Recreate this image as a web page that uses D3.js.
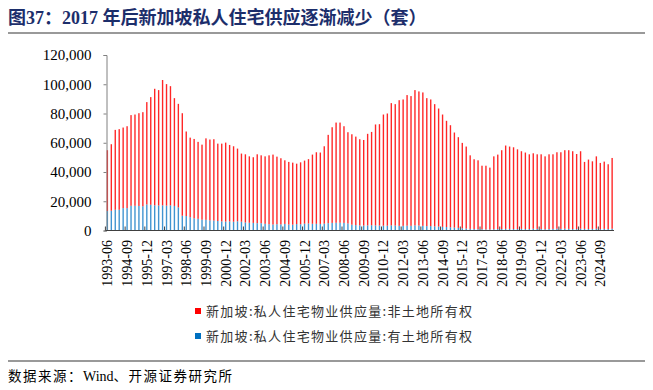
<!DOCTYPE html>
<html>
<head>
<meta charset="utf-8">
<script src="https://cdn.jsdelivr.net/npm/d3@7"></script>
<style>
  body { margin: 0; background: #fff; }
  svg { display: block; }
</style>
</head>
<body>
<div id="chart"></div>
<script>
// quarterly categories 1993-06 .. 2025-06
const quarters = [];
for (let y = 1993; y <= 2025; y++) {
  ['03', '06', '09', '12'].forEach(m => {
    const q = `${y}-${m}`;
    if (q >= '1993-06' && q <= '2025-06') quarters.push(q);
  });
}

const tickLabels = ['1993-06', '1994-09', '1995-12', '1997-03', '1998-06', '1999-09', '2000-12',
  '2002-03', '2003-06', '2004-09', '2005-12', '2007-03', '2008-06', '2009-09', '2010-12',
  '2012-03', '2013-06', '2014-09', '2015-12', '2017-03', '2018-06', '2019-09', '2020-12',
  '2022-03', '2023-06', '2024-09'];

const yTicks = [0, 20000, 40000, 60000, 80000, 100000, 120000];

// 有土地所有权 (landed)
const landed = [
  13300, 13500, 14200, 14200, 15300, 15300, 16900, 16900, 16800, 16600,
  17800, 17600, 17200, 17100, 17200, 17000, 17200, 16800, 15800, 10100,
  9900, 9100, 8300, 8000, 7400, 7300, 6900, 6800, 6500, 6200,
  6100, 6200, 6000, 6300, 6000, 5500, 5300, 5200, 5000, 5000,
  4600, 4300, 4100, 4300, 4200, 4500, 4100, 4000, 4400, 4300,
  4700, 4800, 4600, 4600, 4500, 4700, 5000, 5200, 5300, 5300,
  5200, 4800, 4000, 3700, 3500, 3400, 3500, 3600, 3500, 3400,
  3300, 3300, 3500, 3400, 3200, 3200, 3300, 3200, 3500, 3400,
  3200, 3000, 3000, 2800, 2700, 2500, 2400, 2200, 2000, 1800,
  1500, 1300, 1100, 1000, 900, 900, 800, 800, 900, 1000,
  1000, 1100, 1100, 1000, 1000, 1100, 1000, 1000, 1200, 1100,
  1000, 900, 1000, 1100, 1200, 1100, 1200, 1100, 1000, 1000,
  1200, 1100, 1000, 1100, 1200, 1000, 1100, 1000, 1200
];

// 非土地所有权 (non-landed)
const nonLanded = [
  41600, 45500, 54600, 55100, 55100, 56000, 62000, 62400, 63400, 64300,
  70000, 73600, 79700, 78900, 85700, 83100, 81500, 73700, 70800, 70100,
  57800, 54400, 54300, 52600, 51300, 55700, 55300, 55600, 52900, 53200,
  54000, 52300, 51600, 49700, 46600, 46600, 45400, 44900, 47100, 46400,
  46100, 47100, 47800, 46200, 45200, 43500, 42800, 42400, 41300, 42300,
  43100, 44000, 47300, 48900, 48800, 52900, 60400, 65400, 68500, 68500,
  66100, 62400, 61800, 60500, 58900, 58500, 62600, 63800, 69000, 69300,
  76000, 76700, 83600, 83000, 85900, 86400, 89300, 88700, 92500, 91700,
  91200, 87500, 86600, 83600, 80700, 76800, 72600, 69800, 65000, 62000,
  58400, 56100, 50300, 47700, 47100, 43400, 43500, 42200, 49800, 50900,
  53900, 57000, 56300, 55900, 54500, 53100, 52300, 51100, 51600, 51000,
  51100, 49800, 51100, 51000, 52300, 52400, 53700, 53800, 53200, 51300,
  53000, 45800, 47500, 46200, 49500, 45200, 46000, 44300, 48400
];

const seriesNames = ['新加坡:私人住宅物业供应量:非土地所有权', '新加坡:私人住宅物业供应量:有土地所有权'];
const seriesColors = ['#ff0000', '#0070c0'];

const width = 653;
const height = 390;
const plot = { left: 105.5, right: 614, top: 55, bottom: 230.5 };

const svg = d3.select('#chart').append('svg')
  .attr('width', width)
  .attr('height', height);

// title
svg.append('text')
  .attr('x', 8)
  .attr('y', 24)
  .attr('fill', '#1c2e6b')
  .style('font-family', '"Liberation Serif", "Noto Sans CJK SC", serif')
  .style('font-size', '18px')
  .style('font-weight', 'bold')
  .text('图37：2017 年后新加坡私人住宅供应逐渐减少（套）');

svg.append('line')
  .attr('x1', 8).attr('x2', 645)
  .attr('y1', 33).attr('y2', 33)
  .attr('stroke', '#999')
  .attr('stroke-width', 2);

const x = d3.scaleBand()
  .domain(quarters)
  .range([plot.left, plot.right])
  .paddingInner(0.65)
  .paddingOuter(0.3);

const y = d3.scaleLinear()
  .domain([0, 120000])
  .range([plot.bottom, plot.top]);

const rows = quarters.map((q, i) => ({ q, landed: landed[i], nonLanded: nonLanded[i] }));
const stack = d3.stack().keys(['landed', 'nonLanded'])(rows);
const colorOf = { landed: seriesColors[1], nonLanded: seriesColors[0] };

svg.append('g').selectAll('g')
  .data(stack)
  .enter().append('g')
  .attr('fill', d => colorOf[d.key])
  .attr('fill-opacity', d => (d.key === 'landed' ? 0.75 : 0.85))
  .selectAll('rect')
  .data(d => d)
  .enter().append('rect')
  .attr('x', d => x(d.data.q))
  .attr('width', x.bandwidth())
  .attr('y', d => y(d[1]))
  .attr('height', d => y(d[0]) - y(d[1]));

// y axis
const yAxis = svg.append('g')
  .attr('transform', `translate(${plot.left + 1},0)`)
  .call(d3.axisLeft(y).tickValues(yTicks).tickSize(3).tickPadding(12)
    .tickFormat(d3.format(',')));
yAxis.select('.domain').attr('stroke', '#808080');
yAxis.selectAll('.tick line').attr('stroke', '#808080');
yAxis.selectAll('text')
  .attr('fill', '#000')
  .style('font-family', '"Liberation Serif", serif')
  .style('font-size', '15px');

// x axis
const xAxisG = svg.append('g');
xAxisG.append('line')
  .attr('x1', plot.left).attr('x2', plot.right)
  .attr('y1', plot.bottom).attr('y2', plot.bottom)
  .attr('stroke', '#404040')
  .attr('stroke-width', 1.2);

const step = x.step();
xAxisG.selectAll('.xtick')
  .data(tickLabels)
  .enter().append('line')
  .attr('class', 'xtick')
  .attr('x1', d => x(d) - (step - x.bandwidth()) / 2)
  .attr('x2', d => x(d) - (step - x.bandwidth()) / 2)
  .attr('y1', plot.bottom)
  .attr('y2', plot.bottom - 4)
  .attr('stroke', '#404040');

xAxisG.selectAll('.xlabel')
  .data(tickLabels)
  .enter().append('text')
  .attr('class', 'xlabel')
  .attr('transform', d => `translate(${x(d) + x.bandwidth() / 2 + 5},240) rotate(-90)`)
  .attr('text-anchor', 'end')
  .attr('fill', '#000')
  .style('font-family', '"Liberation Serif", serif')
  .style('font-size', '14px')
  .text(d => d);

// legend
const legend = svg.append('g')
  .selectAll('g')
  .data(seriesNames)
  .enter().append('g')
  .attr('transform', (d, i) => `translate(195,${308 + i * 25})`);

legend.append('rect')
  .attr('width', 6)
  .attr('height', 6)
  .attr('fill', (d, i) => seriesColors[i]);

legend.append('text')
  .attr('x', 11)
  .attr('y', 8)
  .attr('fill', '#333')
  .style('font-family', '"Noto Sans CJK SC", sans-serif')
  .style('font-size', '13px')
  .style('letter-spacing', '1.3px')
  .text(d => d);

// source
svg.append('line')
  .attr('x1', 8).attr('x2', 645)
  .attr('y1', 361).attr('y2', 361)
  .attr('stroke', '#999')
  .attr('stroke-width', 2);

const source = svg.append('text')
  .attr('x', 8)
  .attr('y', 381)
  .attr('fill', '#000')
  .style('font-family', '"Liberation Serif", "Noto Sans CJK SC", serif')
  .style('font-size', '13.5px');
source.append('tspan').style('letter-spacing', '1.5px').text('数据来源：');
source.append('tspan').style('font-size', '14px').text('Wind');
source.append('tspan').style('letter-spacing', '1.5px').text('、开源证券研究所');
</script>
</body>
</html>
